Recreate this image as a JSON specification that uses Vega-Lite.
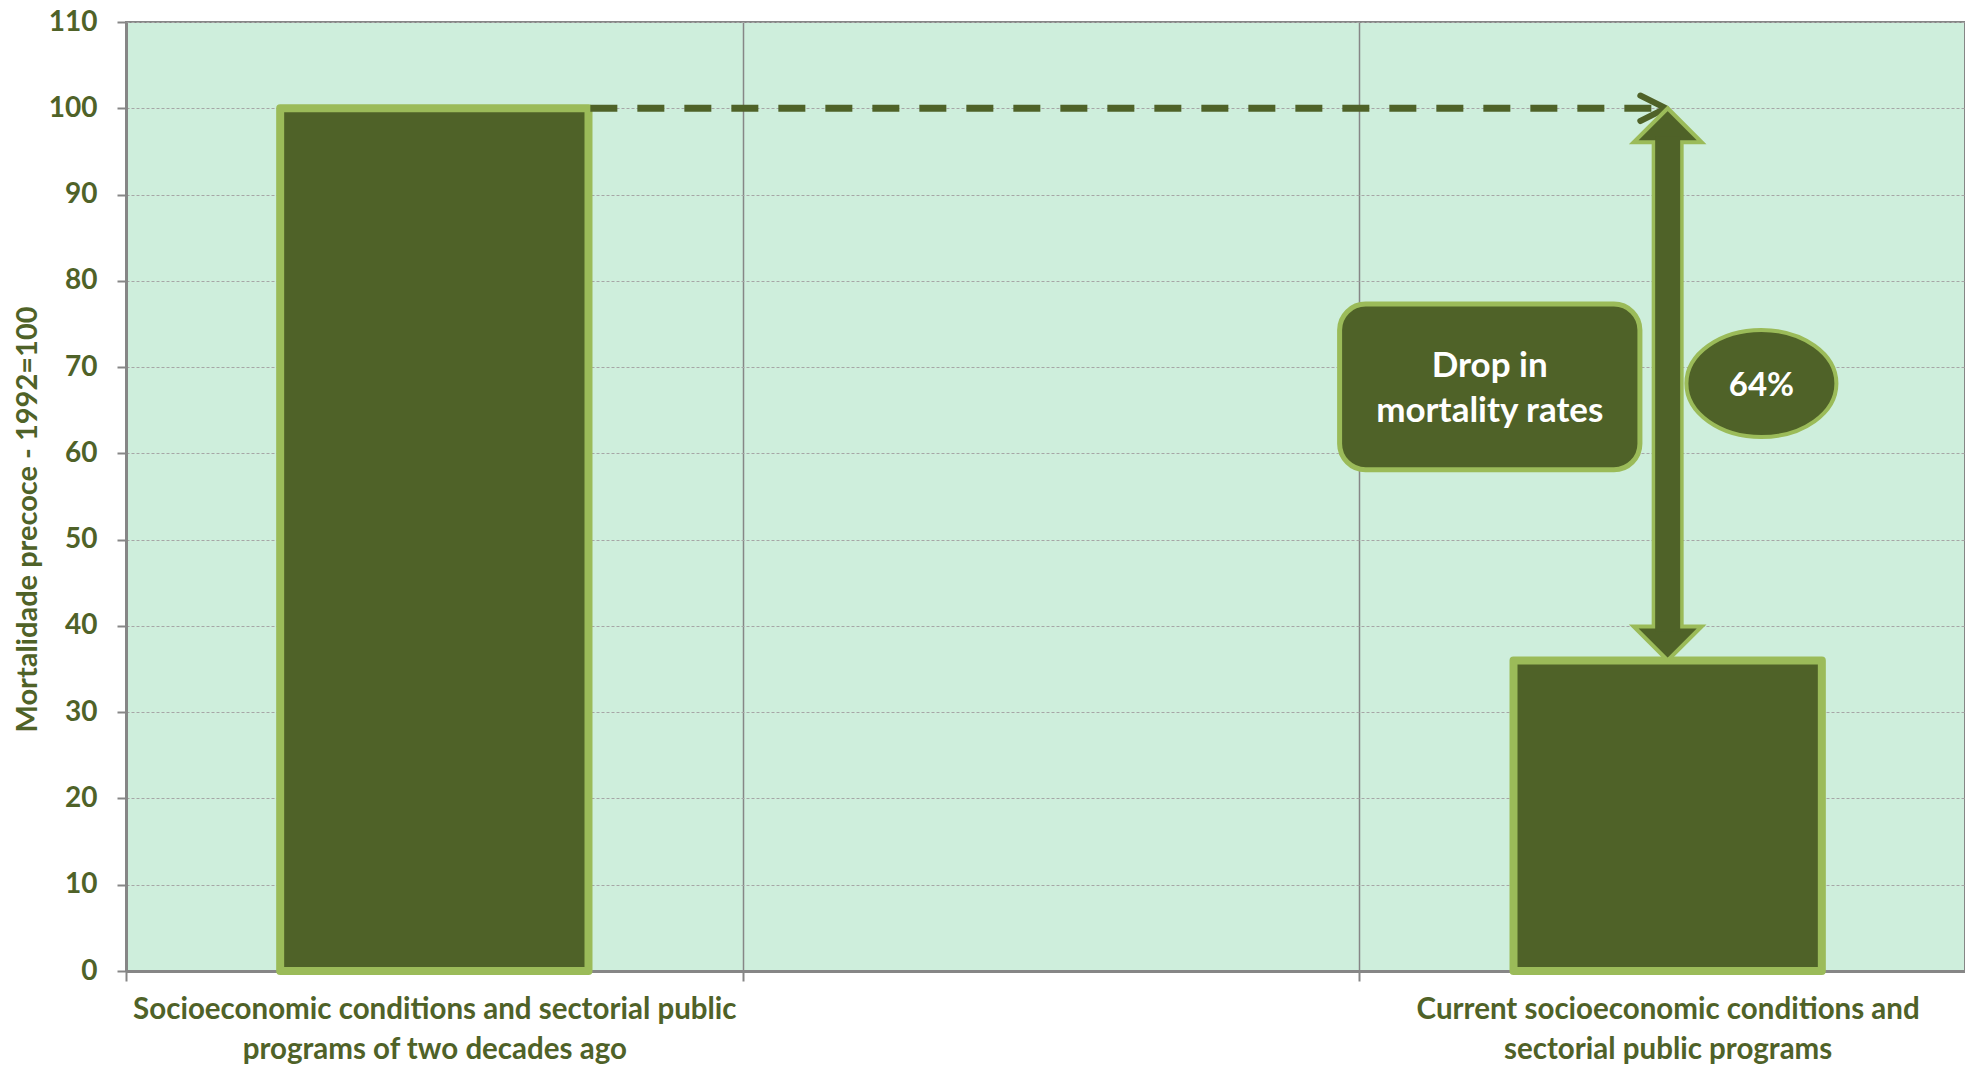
{
  "$schema": "https://vega.github.io/schema/vega-lite/v6.json",
  "width": 1839,
  "height": 949,
  "autosize": "none",
  "padding": {"left": 126, "top": 22, "right": 0, "bottom": 96},
  "background": "#FFFFFF",
  "config": {
    "font": "Lato",
    "view": {"fill": "#CEEEDC", "stroke": "#868686", "strokeWidth": 2}
  },
  "datasets": {
    "bars": [
      {"scenario": "Socioeconomic conditions and sectorial public programs of two decades ago", "index": 100},
      {"scenario": "Current socioeconomic conditions and sectorial public programs", "index": 36}
    ],
    "dashed": [{"x": 0.753, "x2": 2.494, "y": 100}],
    "chevron": [{"x": 2.497, "y": 100}],
    "shaft": [{"x": 2.5, "y": 96.1, "y2": 39.95}],
    "shaftInner": [{"x": 2.5, "y": 96.7, "y2": 39.35}],
    "heads": [{"x": 2.5, "y": 100, "dir": "up"}, {"x": 2.5, "y": 36, "dir": "down"}],
    "box": [{"x": 1.968, "x2": 2.455, "y": 58.1, "y2": 77.3, "label": "Drop in\nmortality rates"}],
    "bubble": [{"x": 2.652, "y": 68.1, "label": "64%"}]
  },
  "resolve": {"scale": {"x": "independent"}, "axis": {"x": "independent"}},
  "layer": [
    {
      "data": {"name": "bars"},
      "mark": {"type": "bar", "width": {"band": 0.5}, "fill": "#4F6228", "stroke": "#9BBB59", "strokeWidth": 8, "strokeJoin": "round"},
      "encoding": {
        "x": {
          "field": "scenario",
          "type": "nominal",
          "sort": null,
          "scale": {
            "type": "band",
            "domain": ["Socioeconomic conditions and sectorial public programs of two decades ago", " ", "Current socioeconomic conditions and sectorial public programs"],
            "range": [0, 1850],
            "paddingInner": 0,
            "paddingOuter": 0
          },
          "axis": {
            "title": null,
            "orient": "bottom",
            "tickBand": "extent",
            "grid": true,
            "gridColor": "#868686",
            "gridWidth": 1.5,
            "ticks": true,
            "tickSize": 10,
            "tickColor": "#868686",
            "tickWidth": 2,
            "domainColor": "#868686",
            "domainWidth": 3,
            "labelAngle": 0,
            "labelFont": "Lato",
            "labelFontSize": 29.5,
            "labelFontWeight": "bold",
            "labelColor": "#4F6228",
            "labelPadding": 14,
            "labelLineHeight": 40,
            "labelLimit": 900,
            "labelExpr": "split(replace(replace(datum.label, ' public programs of', ' public|programs of'), 'conditions and sectorial public programs', 'conditions and|sectorial public programs'), '|')"
          }
        },
        "y": {
          "field": "index",
          "type": "quantitative",
          "scale": {"domain": [0, 110], "nice": false, "zero": true},
          "axis": {
            "title": "Mortalidade precoce  - 1992=100",
            "orient": "left",
            "values": [0, 10, 20, 30, 40, 50, 60, 70, 80, 90, 100, 110],
            "grid": true,
            "gridColor": "#A6A6A6",
            "gridDash": [3, 2],
            "gridWidth": 1,
            "tickSize": 9,
            "tickColor": "#868686",
            "tickWidth": 2,
            "domainColor": "#868686",
            "domainWidth": 3,
            "labelFont": "Lato",
            "labelFontSize": 28,
            "labelFontWeight": "bold",
            "labelColor": "#4F6228",
            "labelPadding": 20,
            "titleFont": "Lato",
            "titleFontSize": 29,
            "titleFontWeight": "bold",
            "titleColor": "#4F6228",
            "titleAngle": 270,
            "titleAlign": "center",
            "titleBaseline": "middle",
            "titleX": -99,
            "titleY": 497
          }
        }
      }
    },
    {
      "layer": [
        {
          "data": {"name": "dashed"},
          "mark": {"type": "rule", "color": "#4F6228", "strokeWidth": 7, "strokeDash": [27, 20], "strokeCap": "butt"},
          "encoding": {
            "x": {"field": "x", "type": "quantitative", "scale": {"domain": [0, 3], "range": [0, 1850], "nice": false, "zero": false}, "axis": null},
            "x2": {"field": "x2"},
            "y": {"field": "y", "type": "quantitative"}
          }
        },
        {
          "data": {"name": "chevron"},
          "mark": {"type": "point", "shape": "M-2,-1L0,0L-2,1", "size": 650, "filled": false, "fill": null, "stroke": "#4F6228", "strokeWidth": 6, "strokeCap": "round", "strokeJoin": "round", "opacity": 1},
          "encoding": {
            "x": {"field": "x", "type": "quantitative", "axis": null},
            "y": {"field": "y", "type": "quantitative"}
          }
        },
        {
          "data": {"name": "shaft"},
          "mark": {"type": "rule", "color": "#9BBB59", "strokeWidth": 32, "strokeCap": "butt"},
          "encoding": {
            "x": {"field": "x", "type": "quantitative", "axis": null},
            "y": {"field": "y", "type": "quantitative"},
            "y2": {"field": "y2"}
          }
        },
        {
          "data": {"name": "heads"},
          "mark": {"type": "point", "filled": true, "size": 4624, "fill": "#4F6228", "stroke": "#9BBB59", "strokeWidth": 4, "strokeJoin": "miter", "opacity": 1},
          "encoding": {
            "x": {"field": "x", "type": "quantitative", "axis": null},
            "y": {"field": "y", "type": "quantitative"},
            "shape": {"field": "dir", "type": "nominal", "legend": null, "scale": {"domain": ["up", "down"], "range": ["M0,0L1,1L-1,1Z", "M0,0L1,-1L-1,-1Z"]}}
          }
        },
        {
          "data": {"name": "shaftInner"},
          "mark": {"type": "rule", "color": "#4F6228", "strokeWidth": 25, "strokeCap": "butt"},
          "encoding": {
            "x": {"field": "x", "type": "quantitative", "axis": null},
            "y": {"field": "y", "type": "quantitative"},
            "y2": {"field": "y2"}
          }
        },
        {
          "data": {"name": "box"},
          "mark": {"type": "rect", "fill": "#4F6228", "stroke": "#9BBB59", "strokeWidth": 5, "cornerRadius": 26},
          "encoding": {
            "x": {"field": "x", "type": "quantitative", "axis": null},
            "x2": {"field": "x2"},
            "y": {"field": "y", "type": "quantitative"},
            "y2": {"field": "y2"}
          }
        },
        {
          "data": {"name": "box"},
          "transform": [{"calculate": "(datum.x + datum.x2) / 2", "as": "xc"}, {"calculate": "(datum.y + datum.y2) / 2", "as": "yc"}],
          "mark": {"type": "text", "color": "#FFFFFF", "font": "Lato", "fontSize": 35, "fontWeight": "bold", "lineBreak": "\n", "lineHeight": 45, "align": "center", "baseline": "middle", "dy": -21},
          "encoding": {
            "x": {"field": "xc", "type": "quantitative", "axis": null},
            "y": {"field": "yc", "type": "quantitative"},
            "text": {"field": "label"}
          }
        },
        {
          "data": {"name": "bubble"},
          "mark": {"type": "point", "shape": "M-1,0C-1,-0.394,-0.552,-0.713,0,-0.713C0.552,-0.713,1,-0.394,1,0C1,0.394,0.552,0.713,0,0.713C-0.552,0.713,-1,0.394,-1,0Z", "size": 22500, "filled": true, "fill": "#4F6228", "stroke": "#9BBB59", "strokeWidth": 4, "opacity": 1},
          "encoding": {
            "x": {"field": "x", "type": "quantitative", "axis": null},
            "y": {"field": "y", "type": "quantitative"}
          }
        },
        {
          "data": {"name": "bubble"},
          "mark": {"type": "text", "color": "#FFFFFF", "font": "Lato", "fontSize": 33, "fontWeight": "bold", "align": "center", "baseline": "middle", "dy": 3},
          "encoding": {
            "x": {"field": "x", "type": "quantitative", "axis": null},
            "y": {"field": "y", "type": "quantitative"},
            "text": {"field": "label"}
          }
        }
      ]
    }
  ]
}
